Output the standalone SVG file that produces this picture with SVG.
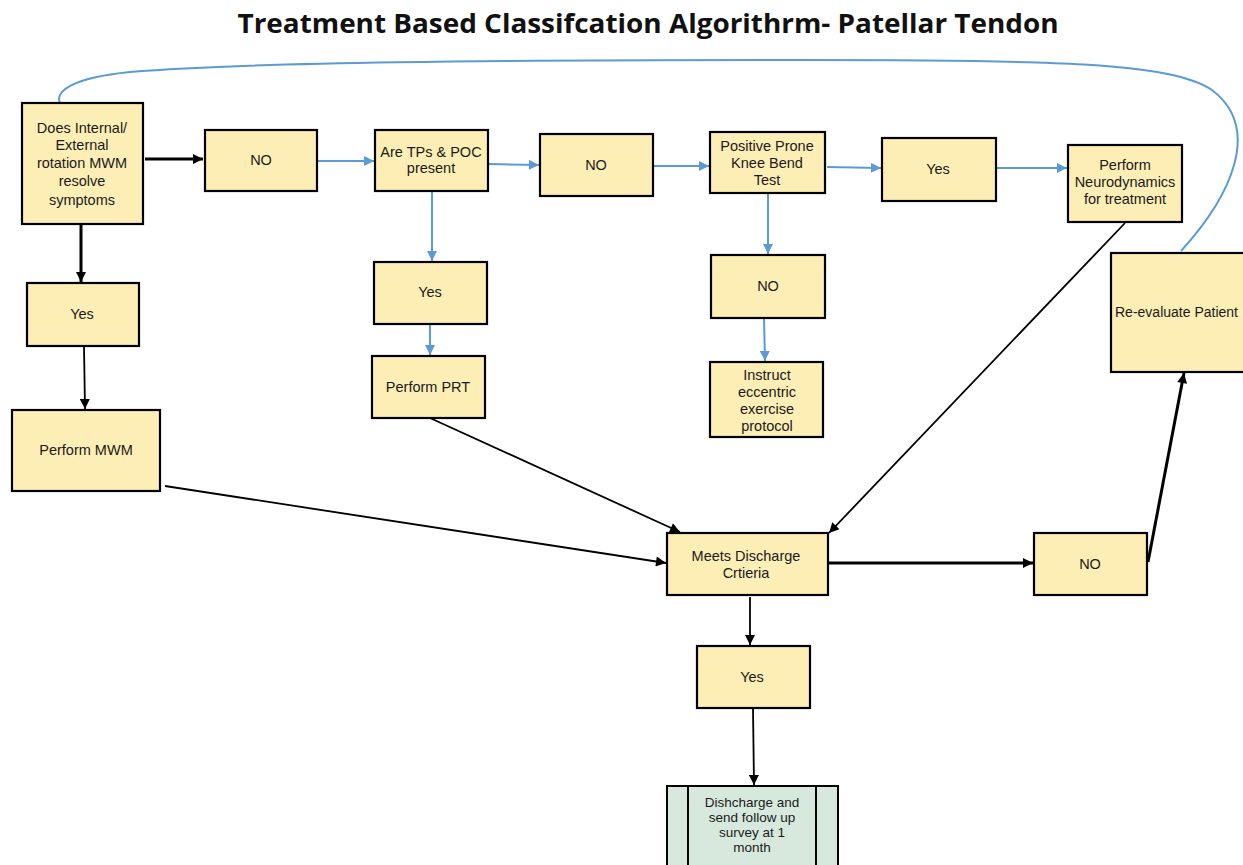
<svg xmlns="http://www.w3.org/2000/svg" width="1243" height="865" viewBox="0 0 1243 865">
<style>
.box{fill:#fdeeb6;stroke:#000;stroke-width:2.2}
.grn{fill:#d6e9dc;stroke:#000;stroke-width:2}
.t{font-family:"Liberation Sans",Arial,sans-serif;font-size:14.5px;fill:#1a1a1a;text-anchor:middle}
.s{font-size:13.5px}
.blk{stroke:#000;stroke-width:1.8;fill:none;marker-end:url(#ab)}
.thk{stroke:#000;stroke-width:3;fill:none;marker-end:url(#ab)}
.blu{stroke:#5b9bd5;stroke-width:2;fill:none;marker-end:url(#au)}
</style>
<defs>
<marker id="ab" viewBox="0 0 10 10" refX="10" refY="5" markerWidth="12" markerHeight="10" markerUnits="userSpaceOnUse" orient="auto"><path d="M0,0 L10,5 L0,10 z" fill="#000"/></marker>
<marker id="au" viewBox="0 0 10 10" refX="10" refY="5" markerWidth="12" markerHeight="10" markerUnits="userSpaceOnUse" orient="auto"><path d="M0,0 L10,5 L0,10 z" fill="#5b9bd5"/></marker>
</defs>
<rect width="1243" height="865" fill="#fff"/>
<text x="648" y="33" font-family="'Open Sans','Liberation Sans',sans-serif" font-size="27" font-weight="bold" fill="#111" text-anchor="middle" textLength="821" lengthAdjust="spacingAndGlyphs">Treatment Based Classifcation Algorithrm- Patellar Tendon</text>

<g id="connectors">
<path class="blu" style="marker-end:none" d="M1181,251 C1232,195 1262,128 1212,90 C1170,62 1050,60 800,60 C500,60 250,62 130,72 C70,78 55,92 60,103"/>
<path class="thk" d="M145,159 L203,159"/>
<path class="thk" d="M81,225 L81,282"/>
<path class="blk" d="M84,347 L85,409"/>
<path class="blk" d="M165,486 L666,563"/>
<path class="blk" d="M430,418 L680,532"/>
<path class="blk" d="M1125,223 L829,533"/>
<path class="thk" d="M829,563 L1033,563"/>
<path class="thk" d="M1148,562 L1184,373"/>
<path class="blk" d="M750,597 L750,645"/>
<path class="blk" d="M753,709 L754,785"/>
<path class="blu" d="M318,161 L374,161"/>
<path class="blu" d="M489,164 L539,165"/>
<path class="blu" d="M654,166 L709,166"/>
<path class="blu" d="M827,167 L881,168"/>
<path class="blu" d="M997,168 L1067,168"/>
<path class="blu" d="M432,192 L432,261"/>
<path class="blu" d="M430,325 L430,355"/>
<path class="blu" d="M768,194 L768,254"/>
<path class="blu" d="M764,319 L765,361"/>
</g>

<g id="n-does"><rect class="box" x="22" y="103" width="121" height="121"/>
<text class="t" x="82" y="133">Does Internal/</text><text class="t" x="82" y="150">External</text><text class="t" x="82" y="168">rotation MWM</text><text class="t" x="82" y="186">resolve</text><text class="t" x="82" y="205">symptoms</text></g>
<g id="n-no1"><rect class="box" x="205" y="130" width="112" height="61"/><text class="t" x="261" y="165">NO</text></g>
<g id="n-tps"><rect class="box" x="375" y="130" width="113" height="61"/><text class="t" x="431" y="157">Are TPs &amp; POC</text><text class="t" x="431" y="173">present</text></g>
<g id="n-no2"><rect class="box" x="540" y="134" width="113" height="62"/><text class="t" x="596" y="170">NO</text></g>
<g id="n-prone"><rect class="box" x="710" y="132" width="115" height="61"/><text class="t" x="767" y="151">Positive Prone</text><text class="t" x="767" y="168">Knee Bend</text><text class="t" x="767" y="185">Test</text></g>
<g id="n-yes2"><rect class="box" x="882" y="138" width="114" height="63"/><text class="t" x="938" y="174">Yes</text></g>
<g id="n-neuro"><rect class="box" x="1068" y="145" width="114" height="77"/><text class="t" x="1125" y="170">Perform</text><text class="t" x="1125" y="187">Neurodynamics</text><text class="t" x="1125" y="204">for treatment</text></g>
<g id="n-reeval"><rect class="box" x="1111" y="253" width="150" height="119"/><text class="t" x="1115" y="317" style="text-anchor:start;font-size:14px">Re-evaluate Patient</text></g>
<g id="n-yes1"><rect class="box" x="27" y="283" width="112" height="63"/><text class="t" x="82" y="319">Yes</text></g>
<g id="n-mwm"><rect class="box" x="12" y="410" width="148" height="81"/><text class="t" x="86" y="455">Perform MWM</text></g>
<g id="n-yes3"><rect class="box" x="374" y="262" width="113" height="62"/><text class="t" x="430" y="297">Yes</text></g>
<g id="n-prt"><rect class="box" x="372" y="356" width="113" height="62"/><text class="t" x="428" y="392">Perform PRT</text></g>
<g id="n-no3"><rect class="box" x="711" y="255" width="114" height="63"/><text class="t" x="768" y="291">NO</text></g>
<g id="n-ecc"><rect class="box" x="710" y="362" width="113" height="75"/><text class="t" x="767" y="380">Instruct</text><text class="t" x="767" y="397">eccentric</text><text class="t" x="767" y="414">exercise</text><text class="t" x="767" y="431">protocol</text></g>
<g id="n-meets"><rect class="box" x="667" y="533" width="161" height="62"/><text class="t" x="746" y="561">Meets Discharge</text><text class="t" x="746" y="578">Crtieria</text></g>
<g id="n-no4"><rect class="box" x="1034" y="533" width="113" height="62"/><text class="t" x="1090" y="569">NO</text></g>
<g id="n-yes4"><rect class="box" x="697" y="646" width="113" height="62"/><text class="t" x="752" y="682">Yes</text></g>
<g id="n-dis"><rect class="grn" x="667" y="786" width="171" height="90"/><line x1="688" y1="786" x2="688" y2="865" stroke="#000" stroke-width="2"/><line x1="816" y1="786" x2="816" y2="865" stroke="#000" stroke-width="2"/>
<text class="t s" x="752" y="807">Dishcharge and</text><text class="t s" x="752" y="822">send follow up</text><text class="t s" x="752" y="837">survey at 1</text><text class="t s" x="752" y="852">month</text></g>
</svg>
